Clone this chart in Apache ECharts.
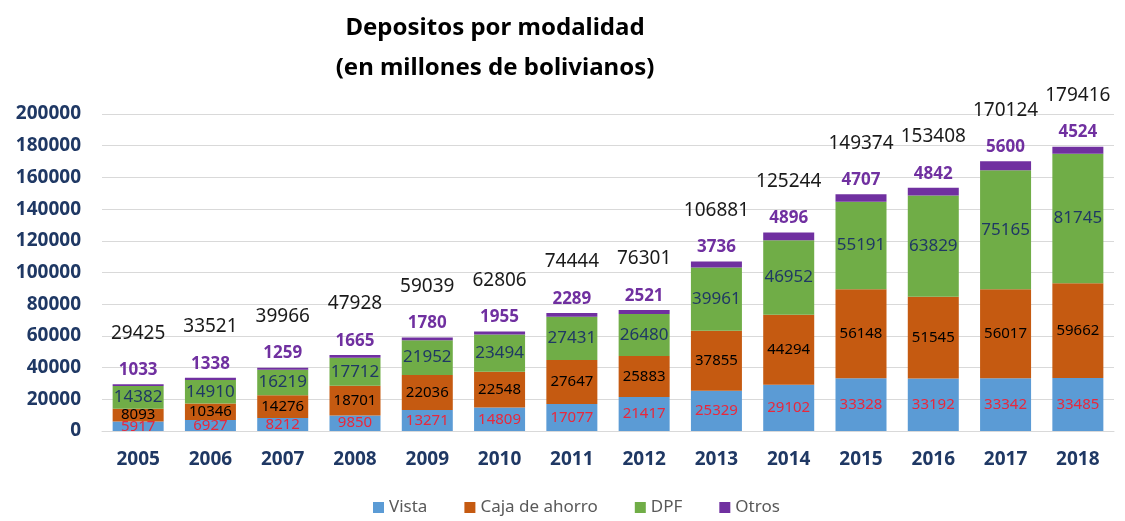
<!DOCTYPE html>
<html>
<head>
<meta charset="utf-8">
<script src="https://cdn.jsdelivr.net/npm/echarts@6/dist/echarts.min.js"></script>
<style>html,body{margin:0;padding:0;background:#fff}#c{width:1125px;height:521px}</style>
</head>
<body>
<div id="c"></div>
<script>
const years = ['2005','2006','2007','2008','2009','2010','2011','2012','2013','2014','2015','2016','2017','2018'];
const vista = [5917,6927,8212,9850,13271,14809,17077,21417,25329,29102,33328,33192,33342,33485];
const caja  = [8093,10346,14276,18701,22036,22548,27647,25883,37855,44294,56148,51545,56017,59662];
const dpf   = [14382,14910,16219,17712,21952,23494,27431,26480,39961,46952,55191,63829,75165,81745];
const otros = [1033,1338,1259,1665,1780,1955,2289,2521,3736,4896,4707,4842,5600,4524];
const totals = [29425,33521,39966,47928,59039,62806,74444,76301,106881,125244,149374,153408,170124,179416];
const yTicks = [0,20000,40000,60000,80000,100000,120000,140000,160000,180000,200000];

const FONT = '"Noto Sans", "Open Sans", sans-serif';
const navy = '#1F3864';
const chart = echarts.init(document.getElementById('c'), null, {renderer:'canvas'});
const bw = 51;
chart.setOption({
  animation:false,
  backgroundColor:'#fff',
  textStyle:{fontFamily:FONT},
  title:{
    text:'Depositos por modalidad\n(en millones de bolivianos)',
    left:495, top:8, padding:0, textAlign:'center',
    textStyle:{fontFamily:FONT, fontWeight:'bold', fontSize:24, color:'#000', lineHeight:40}
  },
  legend:{
    bottom:0, left:368,
    itemWidth:11, itemHeight:11, itemGap:37, icon:'rect',
    textStyle:{fontFamily:FONT, fontSize:17, color:'#595959'},
    data:['Vista','Caja de ahorro','DPF','Otros']
  },
  grid:{left:102, right:11, top:114, bottom:90, containLabel:false},
  xAxis:{
    type:'category', data:years,
    axisLine:{lineStyle:{color:'#d9d9d9'}},
    axisTick:{show:false},
    axisLabel:{fontFamily:FONT, fontWeight:'bold', fontSize:19, color:navy, margin:19}
  },
  yAxis:{
    type:'value', min:0, max:200000, interval:20000,
    axisLine:{show:false}, axisTick:{show:false},
    splitLine:{lineStyle:{color:'#d9d9d9', width:1}},
    axisLabel:{fontFamily:FONT, fontWeight:'bold', fontSize:19, color:navy, margin:21,
      formatter:v=>yTicks.includes(v)?String(v):''}
  },
  series:[
    {name:'Vista', type:'bar', stack:'a', data:vista, barWidth:bw,
     itemStyle:{color:'#5B9BD5'},
     label:{show:true, position:'inside', fontFamily:FONT, fontSize:15, color:'#E8283C'}},
    {name:'Caja de ahorro', type:'bar', stack:'a', data:caja, barWidth:bw,
     itemStyle:{color:'#C55A11'},
     label:{show:true, position:'inside', fontFamily:FONT, fontSize:15, color:'#000'}},
    {name:'DPF', type:'bar', stack:'a', data:dpf, barWidth:bw,
     itemStyle:{color:'#70AD47'},
     label:{show:true, position:'inside', fontFamily:FONT, fontSize:17, color:navy}},
    {name:'Otros', type:'bar', stack:'a', data:otros, barWidth:bw,
     itemStyle:{color:'#7030A0'},
     label:{show:true, position:'top', distance:4,
       formatter:p=>'{t|'+totals[p.dataIndex]+'}\n{o|'+p.value+'}',
       rich:{
         t:{fontFamily:FONT, fontSize:19, color:'#1a1a1a', lineHeight:54, align:'center'},
         o:{fontFamily:FONT, fontSize:17, fontWeight:'bold', color:'#7030A0', lineHeight:20, align:'center'}
       }}}
  ]
});
</script>
</body>
</html>
